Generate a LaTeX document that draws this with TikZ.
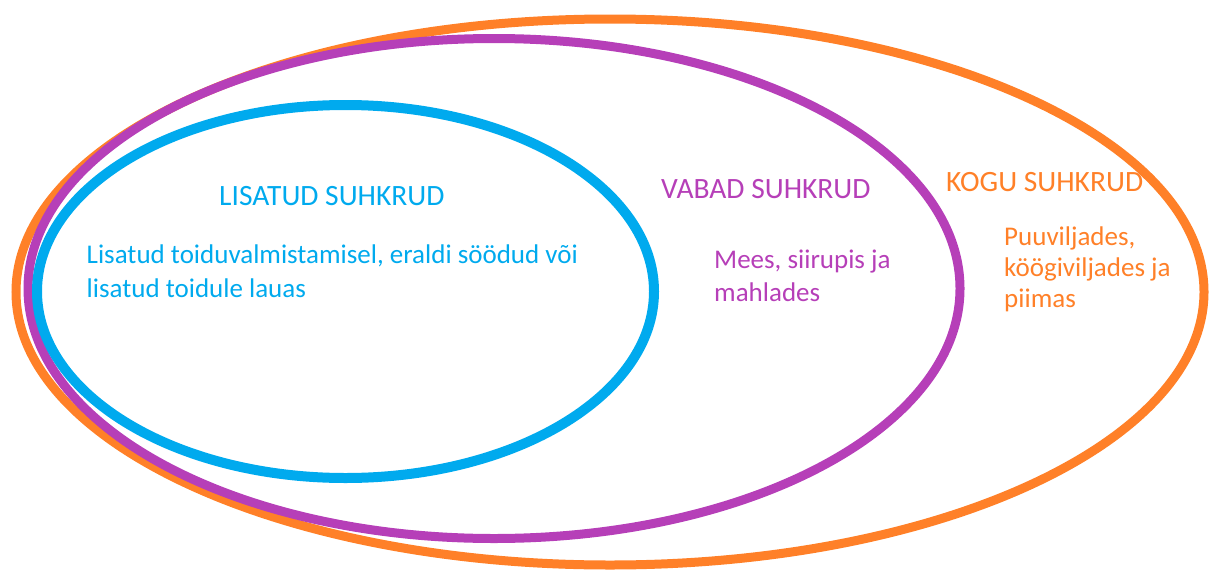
\documentclass[tikz,border=0pt]{standalone}
\usepackage{fontspec}
\setmainfont{Carlito}
\definecolor{lisblue}{HTML}{00AAEE}
\definecolor{vabpurple}{HTML}{B63FB8}
\definecolor{kogorange}{HTML}{FF8028}
\begin{document}
\begin{tikzpicture}
            [x=1pt,y=-1pt,every node/.style={inner sep=0,anchor=base west,align=left},
            title/.style={font=\fontsize{29.5}{32}\selectfont},
            body/.style={font=\fontsize{27}{32.7}\selectfont}]

            \useasboundingbox (0,0) rectangle (1209,570);

            \coordinate (ckogu) at (610,292);
            \coordinate (cvabad) at (494,288.5);
            \coordinate (clisatud) at (345.5,291.5);

            \draw[kogorange, line width=9pt] (ckogu) ellipse [x radius=594, y radius=273];
            \draw[vabpurple, line width=9pt] (cvabad) ellipse [x radius=466, y radius=250];
            \draw[lisblue, line width=10pt] (clisatud) ellipse [x radius=308.5, y radius=186.5];

            \node[title, lisblue] (t1) at (219,205) {LISATUD SUHKRUD};
            \node[title, vabpurple] (t2) at (661,198.3) {VABAD SUHKRUD};
            \node[title, kogorange] (t3) at (946,191.7) {KOGU SUHKRUD};

            % anchor is the baseline of the last line
            \node[body, lisblue, font=\fontsize{27}{34}\selectfont] (b1) at (86.5,297.3) {Lisatud toiduvalmistamisel, eraldi söödud või\\lisatud toidule lauas};
            \node[body, vabpurple] (b2) at (714,301) {Mees, siirupis ja\\mahlades};
            \node[body, kogorange, font=\fontsize{27}{30.7}\selectfont] (b3) at (1004,307) {Puuviljades,\\köögiviljades ja\\piimas};
          \end{tikzpicture}
\end{document}
